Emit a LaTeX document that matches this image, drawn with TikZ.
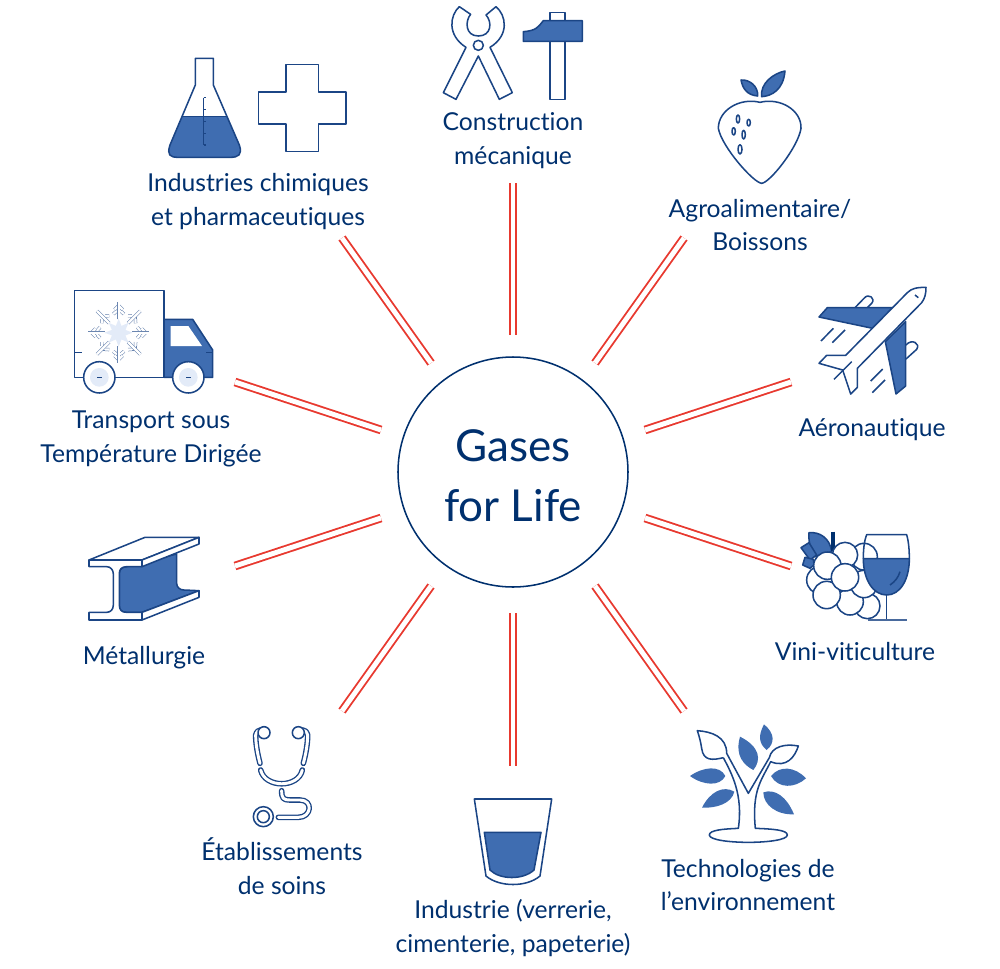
\documentclass[tikz,border=0pt]{standalone}
\usepackage{fontspec}
\setmainfont{Lato}[Ligatures=NoCommon]
\definecolor{navy}{HTML}{00306E}
\definecolor{ink}{HTML}{1B4585}
\definecolor{blu}{HTML}{3F6DB1}
\definecolor{pale}{HTML}{E3EBF8}
\definecolor{rd}{HTML}{E8392F}
\tikzset{
  x=0.75pt,y=-0.75pt,
  ico/.style={draw=ink,line width=1.15pt,line join=round},
  icf/.style={draw=ink,fill=blu,line width=1.15pt,line join=round},
  icw/.style={draw=ink,fill=white,line width=1.15pt,line join=round},
  z/.style 2 args={shift={(#1,#2)},x=.25pt,y=-.25pt},
  lab/.style={text=navy,align=center,font=\fontsize{18.5}{25}\selectfont,inner sep=0pt},
  spoke/.style={draw=rd,double=white,line width=1.4pt,double distance=3.7pt},
  tube/.style={draw=ink,double=white,line width=1pt,double distance=2.2pt,line cap=round,line join=round},
  flake/.style={draw=ink!65,double=white,line width=.4pt,double distance=1.7pt,line join=miter},
}
\begin{document}
\begin{tikzpicture}
\useasboundingbox (0,0) rectangle (1000,968);
% hub
\node[circle,draw=navy,line width=1.15pt,minimum size=172.5pt,inner sep=0pt] (hub) at (513,472) {};
\node[text=navy,align=center,inner sep=0pt,font=\fontsize{33}{44}\selectfont] (hubtext) at (513,476) {Gases\\[1pt]for Life};
% spokes
\foreach \n/\ax/\ay/\bx/\by in {a/513/335/513/183,b/595/363/684/238,c/645/430/791/382,d/645/518/791/566,e/595/586/684/711,f/513/613/513/766,g/431/586/342/711,h/381/518/235/566,i/381/430/235/382,j/431/363/342/238}{
  \coordinate (\n1) at (\ax,\ay);
  \coordinate (\n2) at (\bx,\by);
  \draw[spoke] (\n1) -- (\n2);
}
% labels
\node[lab] (lconstr) at (513,140.5) {Construction\\mécanique};
\node[lab] (lchim) at (258,201.5) {Industries chimiques\\et pharmaceutiques};
\node[lab] (lagro) at (760,225) {Agroalimentaire/\\Boissons};
\node[lab] (ltrans) at (151,439) {Transport sous\\Température Dirigée};
\node[lab] (laero) at (872,430) {Aéronautique};
\node[lab] (lmet) at (144,658) {Métallurgie};
\node[lab] (lvini) at (855,652) {Vini-viticulture};
\node[lab] (lsoin) at (282,866) {Établissements\\de soins};
\node[lab] (lind) at (513,928) {Industrie (verrerie,\\cimenterie, papeterie)};
\node[lab] (ltech) at (748,885) {Technologies de\\l’environnement};
% pincers + hammer
\begin{scope}[z={430}{0}]
\draw[ico] (88,20) -- (122,43) .. controls (105,62) and (105,108) .. (145,108) .. controls (185,108) and (187,65) .. (168,45) -- (198,20) .. controls (228,45) and (240,105) .. (180,142) -- (247,278) -- (208,298) -- (145,168) -- (78,298) -- (40,278) -- (108,142) .. controls (50,105) and (60,45) .. (88,20) -- cycle;
\draw[ico] (145,136) circle (15);
\draw[ico] (360,37) rectangle (405,62);
\draw[ico] (360,124) rectangle (405,298);
\draw[icf] (280,95) .. controls (320,92) and (325,80) .. (340,62) -- (457,62) -- (457,124) -- (280,124) -- cycle;
\end{scope}
% flask + cross
\begin{scope}[z={150}{50}]
\fill[blu] (96,200) -- (232,200) -- (268,285) .. controls (278,315) and (265,322) .. (240,322) -- (85,322) .. controls (60,322) and (50,315) .. (60,285) -- cycle;
\draw[ico] (136,25) -- (190,25) -- (190,105) -- (268,285) .. controls (278,315) and (265,322) .. (240,322) -- (85,322) .. controls (60,322) and (50,315) .. (60,285) -- (136,105) -- cycle;
\draw[ico] (96,200) -- (232,200);
\draw[ico] (161,143) -- (161,285);
\foreach \t in {143,178,214,250,285}{\draw[ico] (161,\t) -- (167,\t);}
\draw[ico] (408,43) -- (505,43) -- (505,126) -- (588,126) -- (588,222) -- (505,222) -- (505,304) -- (408,304) -- (408,222) -- (325,222) -- (325,126) -- (408,126) -- cycle;
\end{scope}
% strawberry
\begin{scope}[z={700}{60}]
\draw[ico] (180,127) .. controls (240,112) and (305,150) .. (303,205) .. controls (295,260) and (210,368) .. (185,370) .. controls (160,368) and (65,260) .. (55,205) .. controls (55,150) and (120,112) .. (180,127) -- cycle;
\draw[icf] (123,60) .. controls (150,58) and (175,80) .. (173,108) .. controls (140,105) and (128,85) .. (123,60) -- cycle;
\draw[icf] (255,33) .. controls (250,90) and (215,108) .. (185,110) .. controls (180,70) and (220,40) .. (255,33) -- cycle;
\foreach \sx/\sy/\rx/\ry in {114/177/5/12,146/188/5/10,101/214/5/11,131/224/5/13,120/268/6/14}{\draw[ico] (\sx,\sy) ellipse [x radius=\rx,y radius=\ry];}
\end{scope}
% truck
\begin{scope}[z={60}{280}]
\draw[ico] (44,31) rectangle (312,292);
\draw[ico] (44,217) -- (65,217);
\draw[icf] (312,118) -- (398,118) -- (458,210) -- (458,292) -- (312,292) -- cycle;
\fill[white] (332,138) -- (385,138) -- (426,198) -- (332,198) -- cycle;
\draw[ico] (438,217) -- (458,217);
\foreach \wx in {118,385}{
  \draw[icw] (\wx,292) circle (47);
  \fill[pale] (\wx,292) circle (28);
  \draw[ico] (\wx-7,292) -- (\wx+7,292);
}
\begin{scope}[shift={(176,158)}]
\foreach \a in {0,45,...,315}{
  \begin{scope}[rotate=\a]
  \draw[flake] (56,-16) -- (70,0) -- (56,16);
  \draw[flake] (69,-12) -- (81,0) -- (69,12);
  \draw[flake] (40,0) -- (92,0);
  \end{scope}
}
\fill[pale] (90:42) \foreach \k in {1,...,15}{ -- ({90+\k*22.5}:{mod(\k,2)==0 ? 42 : 22})} -- cycle;
\end{scope}
\end{scope}
% plane
\begin{scope}[z={800}{280}]
\draw[ico] (165,83) -- (192,55) .. controls (205,38) and (228,55) .. (215,70) -- (202,83);
\draw[ico] (318,195) .. controls (335,175) and (362,190) .. (350,208) -- (318,237);
\draw[icf] (57,111) -- (82,83) -- (280,83) -- (218,145) -- cycle;
\draw[icf] (317,125) -- (317,318) -- (288,342) -- (256,185) -- cycle;
\draw[icw] (378,22) .. controls (350,22) and (335,25) .. (322,38) -- (137,226) -- (80,226) -- (57,250) -- (128,270) -- (152,342) -- (172,322) -- (172,265) -- (365,68) .. controls (375,55) and (378,40) .. (378,22) -- cycle;
\draw[ico] (345,45) -- (355,53);
\draw[ico] (155,245) -- (102,298);
\foreach \ax/\ay/\bx/\by in {100/145/63/183,135/150/97/188,248/267/212/303,255/300/217/338}{\draw[ico] (\ax,\ay) -- (\bx,\by);}
\end{scope}
% grapes + glass
\begin{scope}[z={790}{520}]
\draw[icf] (57,38) .. controls (90,35) and (120,55) .. (125,95) -- (75,110) .. controls (60,90) and (55,60) .. (57,38) -- cycle;
\draw[icf] (33,83) -- (57,68) -- (80,105) -- (60,120) -- cycle;
\draw[icf] (45,112) -- (70,118) -- (72,135) -- (60,145) -- (38,135) -- cycle;
\draw[navy,line width=3.2pt] (128,35) -- (128,92);
\foreach \cx/\cy/\r in {232/258/38,222/110/40,165/105/38,92/180/42,180/245/40,222/192/41,110/225/41,112/137/41,165/172/41}{\draw[icw] (\cx,\cy) circle (\r);}
\draw[icf] (220,116) -- (358,116) .. controls (358,180) and (330,225) .. (290,225) .. controls (250,225) and (220,180) .. (220,116) -- cycle;
\draw[ico] (220,116) .. controls (220,90) and (222,65) .. (230,44) -- (350,44) .. controls (356,65) and (358,90) .. (358,116);
\draw[ico] (330,155) .. controls (325,172) and (315,185) .. (300,195);
\draw[ico] (290,225) -- (290,300);
\draw[ink!80,line width=1.5pt] (235,300) -- (350,300);
\end{scope}
% tree
\begin{scope}[z={680}{715}]
\fill[blu] (252,28) .. controls (235,60) and (235,85) .. (260,105) .. controls (285,85) and (285,55) .. (252,28) -- cycle;
\fill[blu] (180,65) .. controls (170,100) and (172,140) .. (220,165) .. controls (245,135) and (240,95) .. (180,65) -- cycle;
\fill[blu] (30,183) .. controls (70,155) and (120,150) .. (136,183) .. controls (120,215) and (70,212) .. (30,183) -- cycle;
\fill[blu] (66,278) .. controls (90,230) and (130,210) .. (163,230) .. controls (155,265) and (110,280) .. (66,278) -- cycle;
\fill[blu] (378,190) .. controls (345,155) and (300,150) .. (273,183) .. controls (295,222) and (345,220) .. (378,190) -- cycle;
\fill[blu] (342,298) .. controls (320,245) and (285,220) .. (250,232) .. controls (250,270) and (290,300) .. (342,298) -- cycle;
\draw[ico] (130,128) .. controls (100,135) and (70,140) .. (65,100) .. controls (62,80) and (58,65) .. (52,47) .. controls (95,50) and (140,65) .. (140,115) -- (205,235) -- (268,128) .. controls (275,95) and (315,85) .. (355,93) .. controls (345,125) and (320,160) .. (272,140) .. controls (245,195) and (215,225) .. (226,340) .. controls (280,342) and (322,345) .. (322,360) .. controls (322,375) and (260,382) .. (205,382) .. controls (150,382) and (88,375) .. (88,360) .. controls (88,345) and (130,342) .. (175,340) .. controls (190,240) and (155,175) .. (130,128);
\end{scope}
% stethoscope
\begin{scope}[z={240}{720}]
\draw[tube] (60,130) .. controls (52,100) and (47,70) .. (47,45) .. controls (50,35) and (55,30) .. (62,30);
\draw[tube] (190,130) .. controls (198,100) and (203,70) .. (203,45) .. controls (200,35) and (195,30) .. (188,30);
\draw[icw] (72,38) circle (18);
\draw[icw] (175,38) circle (18);
\draw[tube] (62,150) .. controls (75,205) and (175,205) .. (187,150);
\draw[tube] (125,212) .. controls (125,235) and (130,240) .. (150,240) -- (180,240) .. controls (220,240) and (215,292) .. (175,292) -- (115,292);
\draw[ico] (70,290) circle (30);
\draw[ico] (70,290) circle (18);
\end{scope}
% beam
\begin{scope}[z={80}{530}]
\draw[icf] (118,130) .. controls (118,115) and (130,110) .. (140,110) -- (290,72) -- (290,160) .. controls (290,172) and (300,180) .. (312,180) -- (357,182) -- (186,247) -- (140,247) .. controls (125,247) and (118,240) .. (118,230) -- cycle;
\draw[icw] (27,90) -- (195,22) -- (357,22) -- (186,90) -- cycle;
\draw[icw] (186,90) -- (357,22) -- (357,42) -- (186,110) -- cycle;
\draw[icw] (186,247) -- (357,182) -- (357,202) -- (186,270) -- cycle;
\draw[icw] (27,90) -- (186,90) -- (186,110) -- (140,110) .. controls (125,110) and (118,118) .. (118,130) -- (118,225) .. controls (118,240) and (125,247) .. (140,247) -- (186,247) -- (186,270) -- (27,270) -- (27,247) -- (80,247) .. controls (92,247) and (100,238) .. (100,225) -- (100,132) .. controls (100,120) and (92,110) .. (80,110) -- (27,110) -- cycle;
\end{scope}
% tumbler
\begin{scope}[z={460}{790}]
\draw[ico] (43,27) -- (275,27) -- (240,258) .. controls (200,292) and (118,292) .. (78,258) -- cycle;
\draw[icf] (73,127) -- (243,127) -- (222,240) .. controls (190,270) and (120,270) .. (90,240) -- cycle;
\end{scope}
\end{tikzpicture}
\end{document}
